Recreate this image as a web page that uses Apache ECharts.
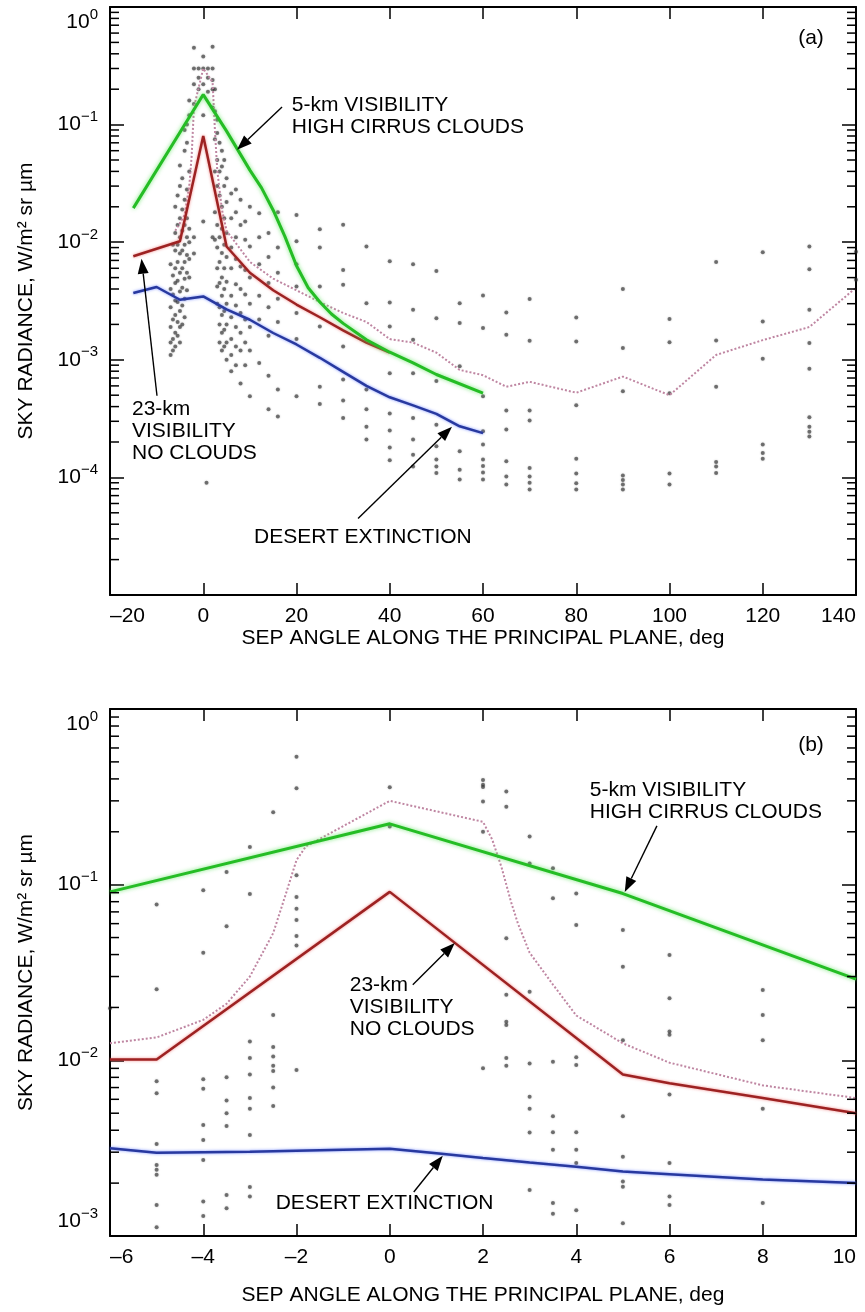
<!DOCTYPE html>
<html>
<head>
<meta charset="utf-8">
<title>Sky radiance along the principal plane</title>
<script src="https://cdn.jsdelivr.net/npm/echarts@6/dist/echarts.min.js"></script>
<style>
  html, body { margin: 0; padding: 0; background: #ffffff; }
  #chart { width: 865px; height: 1312px; }
</style>
</head>
<body>
<div id="chart"></div>
<script>
// ---------------- Panel (a): full sweep, -20 .. 140 deg ----------------
const angleTicksA = [-20, 0, 20, 40, 60, 80, 100, 120, 140];
const radianceRangeA = [1e-5, 1];

// 5-km visibility, high cirrus clouds
const cirrusAngleA = [-15, 0, 5, 10, 12.5, 15, 17.5, 20, 22.5, 25, 27.5, 30, 35, 40, 45, 50, 60];
const cirrusA = [0.0195, 0.18, 0.088, 0.041, 0.029, 0.0187, 0.0112, 0.0063, 0.0041, 0.0031, 0.00245, 0.00204, 0.00148, 0.00116, 0.00094, 0.00075, 0.00052];

// 23-km visibility, no clouds
const clearAngleA = [-15, -5, 0, 5, 10, 15, 20, 25, 30, 35, 40];
const clearA = [0.0076, 0.0102, 0.08, 0.0092, 0.0055, 0.0039, 0.00295, 0.0023, 0.00178, 0.0014, 0.00115];

// desert extinction
const desertAngleA = [-15, -10, -5, 0, 5, 10, 15, 20, 25, 30, 35, 40, 45, 50, 55, 60];
const desertA = [0.0037, 0.00416, 0.00324, 0.00346, 0.00268, 0.00219, 0.00169, 0.00135, 0.00104, 0.00079, 0.0006, 0.00048, 0.00041, 0.000347, 0.000272, 0.000238];

// measured mean (dotted)
const measuredAngleA = [-6, -4, -3, -2.5, -2, 0, 2, 2.5, 3, 4, 5, 10, 15, 20, 25, 30, 35, 40, 45, 50, 55, 60, 65, 70, 80, 90, 100, 110, 120, 130, 140];
const measuredA = [0.0125, 0.017, 0.03, 0.053, 0.14, 0.3, 0.23, 0.09, 0.041, 0.019, 0.0125, 0.0068, 0.0049, 0.0039, 0.0031, 0.0025, 0.0021, 0.0015, 0.0014, 0.00115, 0.00082, 0.00074, 0.00059, 0.00065, 0.000525, 0.00072, 0.0005, 0.0011, 0.00147, 0.0019, 0.0041];

// individual measurements: [angle, [radiances...]]
const dotsA = [
  [-7, [0.0065, 0.004, 0.0028, 0.0019, 0.0014, 0.0011]],
  [-6.5, [0.0095, 0.0052, 0.0036, 0.0022, 0.0015, 0.0012]],
  [-6, [0.02, 0.012, 0.0085, 0.006, 0.0045, 0.0032, 0.0024, 0.0017, 0.0013]],
  [-5.5, [0.025, 0.014, 0.0095, 0.0068, 0.0047, 0.0031, 0.0021, 0.0016]],
  [-5, [0.045, 0.03, 0.016, 0.011, 0.008, 0.0055, 0.0038, 0.0026, 0.0019, 0.0014]],
  [-4.5, [0.035, 0.019, 0.0125, 0.0085, 0.006, 0.0041, 0.0029, 0.002]],
  [-4, [0.09, 0.06, 0.023, 0.014, 0.0095, 0.0068, 0.0049, 0.0033, 0.0023]],
  [-3.5, [0.1, 0.07, 0.028, 0.016, 0.011, 0.0078, 0.0055, 0.0039]],
  [-3, [0.16, 0.12, 0.04, 0.013, 0.01, 0.0072, 0.005]],
  [-2, [0.45, 0.3, 0.22, 0.15, 0.011, 0.008]],
  [-1, [0.3, 0.25, 0.2]],
  [0, [0.38, 0.3, 0.22, 0.12, 0.015]],
  [0.7, [0.00009]],
  [1, [0.3, 0.25, 0.19]],
  [2, [0.46, 0.3, 0.24, 0.2, 0.14, 0.011]],
  [2.5, [0.2, 0.13, 0.075, 0.04, 0.018, 0.0105]],
  [3, [0.11, 0.085, 0.05, 0.03, 0.014, 0.009, 0.006, 0.0042, 0.003]],
  [3.5, [0.07, 0.04, 0.025, 0.011, 0.0068, 0.0045, 0.0028, 0.002, 0.0014]],
  [4, [0.06, 0.044, 0.02, 0.013, 0.0081, 0.005, 0.0035, 0.0024, 0.0017, 0.0012]],
  [4.5, [0.05, 0.03, 0.016, 0.0095, 0.006, 0.004, 0.0026, 0.0018, 0.0013]],
  [5, [0.035, 0.022, 0.012, 0.0075, 0.0046, 0.003, 0.002, 0.0014, 0.001]],
  [6, [0.026, 0.016, 0.009, 0.006, 0.0035, 0.0023, 0.0015, 0.0011, 0.0008]],
  [7, [0.028, 0.018, 0.011, 0.0072, 0.0044, 0.0029, 0.0019, 0.0013, 0.0009]],
  [8, [0.023, 0.014, 0.0062, 0.004, 0.0025, 0.0017, 0.0012, 0.00063]],
  [9, [0.015, 0.0105, 0.0058, 0.0036, 0.0022, 0.0014, 0.0009]],
  [10, [0.02, 0.0092, 0.005, 0.003, 0.0019, 0.0012, 0.00049]],
  [12, [0.0176, 0.011, 0.0065, 0.0035, 0.0022, 0.00094]],
  [14, [0.012, 0.0075, 0.0045, 0.0028, 0.0016, 0.00073, 0.00038]],
  [16, [0.018, 0.009, 0.0055, 0.0033, 0.0021, 0.00056, 0.00033]],
  [20, [0.017, 0.0102, 0.0065, 0.0042, 0.0025, 0.0015, 0.00049]],
  [25, [0.0129, 0.009, 0.0042, 0.00192, 0.00059, 0.00042]],
  [30, [0.0141, 0.0058, 0.00435, 0.0013, 0.00068, 0.00045, 0.00032]],
  [35, [0.0092, 0.00303, 0.00056, 0.00038, 0.00027, 0.00021]],
  [40, [0.0069, 0.00307, 0.00192, 0.00077, 0.00035, 0.00025, 0.00018, 0.00014]],
  [45, [0.0065, 0.00267, 0.00148, 0.00077, 0.00032, 0.00021, 0.000156, 0.000124]],
  [50, [0.0057, 0.00226, 0.00066, 0.00028, 0.000184, 0.000142, 0.000124, 0.000109]],
  [55, [0.00303, 0.00206, 0.00088, 0.000167, 0.000116, 0.000096]],
  [60, [0.00352, 0.00186, 0.00049, 0.000247, 0.00019, 0.000142, 0.000125, 0.00011, 0.000096]],
  [65, [0.00253, 0.00163, 0.00037, 0.000255, 0.000137, 0.000102, 0.000087]],
  [70, [0.00329, 0.00145, 0.00037, 0.000304, 0.00012, 0.000102, 0.00009, 0.000079]],
  [80, [0.00229, 0.00143, 0.00041, 0.000144, 0.000108, 0.000089, 0.000079]],
  [90, [0.004, 0.00126, 0.00054, 0.000104, 0.000095, 0.000087, 0.000079]],
  [100, [0.00222, 0.00141, 0.00052, 0.000108, 0.000087]],
  [110, [0.00678, 0.00146, 0.00059, 0.000135, 0.000124, 0.000109]],
  [120, [0.0082, 0.00212, 0.00102, 0.00019, 0.000161, 0.000144]],
  [130, [0.0092, 0.0059, 0.00267, 0.00139, 0.00084, 0.000324, 0.00027, 0.000245, 0.000223]],
  [140, [0.0083, 0.0048]]
];

// ---------------- Panel (b): close-up, -6 .. 10 deg ----------------
const angleTicksB = [-6, -4, -2, 0, 2, 4, 6, 8, 10];
const radianceRangeB = [1e-3, 1];

const cirrusAngleB = [-6, 0, 5, 10];
const cirrusB = [0.091, 0.222, 0.089, 0.029];

const clearAngleB = [-6, -5, 0, 5, 6, 8, 10];
const clearB = [0.0101, 0.0101, 0.091, 0.0083, 0.0074, 0.0061, 0.005];

const desertAngleB = [-6, -5, -4, -3, -2, -1, 0, 1, 2, 3, 4, 5, 6, 8, 10];
const desertB = [0.00316, 0.00298, 0.003, 0.00302, 0.00306, 0.0031, 0.00314, 0.00296, 0.00278, 0.00262, 0.00248, 0.00233, 0.00225, 0.0021, 0.002];

const measuredAngleB = [-6, -5, -4, -3.5, -3, -2.5, -2.25, -2, -1.8, 0, 2, 2.2, 2.4, 2.6, 2.75, 3, 3.5, 4, 5, 6, 8, 10];
const measuredB = [0.0125, 0.0135, 0.017, 0.021, 0.03, 0.053, 0.085, 0.138, 0.165, 0.3, 0.228, 0.18, 0.125, 0.08, 0.06, 0.041, 0.027, 0.018, 0.0125, 0.0097, 0.0072, 0.0061];

const dotsB = [
  [-6, [0.0198]],
  [-5, [0.077, 0.0254, 0.0076, 0.0065, 0.00334, 0.00254, 0.00238, 0.00223, 0.0015, 0.00112]],
  [-4, [0.093, 0.041, 0.0078, 0.0069, 0.00429, 0.00352, 0.00271, 0.00157, 0.0013]],
  [-3.5, [0.118, 0.058, 0.008, 0.0059, 0.005, 0.00423, 0.00171, 0.00144]],
  [-3, [0.164, 0.0885, 0.0128, 0.0103, 0.0083, 0.0061, 0.0053, 0.00376, 0.0019, 0.00168]],
  [-2.5, [0.258, 0.0181, 0.0119, 0.0105, 0.0093, 0.0087, 0.007, 0.0055]],
  [-2, [0.535, 0.354, 0.113, 0.085, 0.073, 0.063, 0.051, 0.045, 0.0088]],
  [0, [0.358, 0.214]],
  [2, [0.394, 0.37, 0.36, 0.297, 0.2, 0.009]],
  [2.5, [0.339, 0.278, 0.0495, 0.0236, 0.0166, 0.0159, 0.0103, 0.0093]],
  [3, [0.188, 0.132, 0.0246, 0.0096, 0.0062, 0.0053, 0.00388, 0.00183]],
  [3.5, [0.124, 0.0837, 0.0098, 0.0048, 0.0039, 0.0031, 0.00154, 0.00134]],
  [4, [0.089, 0.059, 0.0104, 0.0094, 0.0039, 0.0031, 0.0026, 0.0014]],
  [5, [0.0552, 0.0341, 0.013, 0.0048, 0.00283, 0.00204, 0.00191, 0.00118]],
  [6, [0.0398, 0.0226, 0.0146, 0.014, 0.0064, 0.0026, 0.00168, 0.0015]],
  [8, [0.0251, 0.0181, 0.013, 0.0053, 0.00154]]
];

// ---------------- text ----------------
const xTitle = 'SEP ANGLE ALONG THE PRINCIPAL PLANE, deg';
const yTitle = 'SKY RADIANCE, W/m\u00B2 sr \u00B5m';
const panelTags = ['(a)', '(b)'];

// callouts, anchored in data coordinates: text top-left, arrow tail and tip
const callouts = [
  { panel: 0, text: '5-km VISIBILITY\nHIGH CIRRUS CLOUDS', at: [19.0, 0.182], from: [16.9, 0.141], to: [7.24, 0.061] },
  { panel: 0, text: '23-km\nVISIBILITY\nNO CLOUDS', at: [-15.28, 4.67e-4], from: [-9.92, 4.95e-4], to: [-13.24, 0.00723] },
  { panel: 0, text: 'DESERT EXTINCTION', at: [10.88, 3.82e-5], from: [33.2, 4.47e-5], to: [53.35, 2.7e-4] },
  { panel: 1, text: '5-km VISIBILITY\nHIGH CIRRUS CLOUDS', at: [4.29, 0.40], from: [5.73, 0.216], to: [5.04, 0.0908] },
  { panel: 1, text: '23-km\nVISIBILITY\nNO CLOUDS', at: [-0.858, 0.031], from: [0.494, 0.0269], to: [1.395, 0.0466] },
  { panel: 1, text: 'DESERT EXTINCTION', at: [-2.446, 0.00178], from: [0.515, 0.00178], to: [1.137, 0.00286] }
];

// ---------------- helpers ----------------
const FONT = '"Liberation Sans", Arial, Helvetica, sans-serif';
const zip = (xs, ys) => xs.map((x, i) => [x, ys[i]]);
const flattenDots = cols => cols.flatMap(([x, vals]) => vals.map(v => [x, v]));
const dash = v => (v < 0 ? '\u2013' + (-v) : String(v));

// minor ticks 2..9 x 10^k inside each decade of a log range
function minorTickValues(range) {
  const out = [];
  const lo = Math.round(Math.log10(range[0]));
  const hi = Math.round(Math.log10(range[1]));
  for (let k = lo; k < hi; k++) {
    for (let m = 2; m <= 9; m++) out.push(m * Math.pow(10, k));
  }
  return out;
}

const axisLineStyle = { show: true, onZero: false, lineStyle: { color: '#000', width: 2 } };

function xAxes(grid, ticks, nameGap) {
  const base = {
    gridIndex: grid, type: 'value',
    min: ticks[0], max: ticks[ticks.length - 1], interval: ticks[1] - ticks[0],
    axisLine: axisLineStyle,
    axisTick: { show: true, inside: true, length: 12, lineStyle: { color: '#000', width: 1.5 } },
    splitLine: { show: false }
  };
  return [
    Object.assign({}, base, {
      position: 'bottom',
      axisLabel: {
        show: true, margin: 11, color: '#000', fontSize: 21, fontFamily: FONT,
        formatter: dash, alignMinLabel: 'left', alignMaxLabel: 'right',
        showMinLabel: true, showMaxLabel: true
      },
      name: xTitle, nameLocation: 'middle', nameGap: nameGap,
      nameTextStyle: { color: '#000', fontSize: 21, fontFamily: FONT }
    }),
    Object.assign({}, base, { position: 'top', axisLabel: { show: false } })
  ];
}

function yAxes(grid, range) {
  const base = {
    gridIndex: grid, type: 'log', logBase: 10,
    min: range[0], max: range[1],
    axisLine: axisLineStyle,
    axisTick: { show: true, inside: true, length: 14, lineStyle: { color: '#000', width: 1.5 } },
    splitLine: { show: false },
    minorTick: { show: false }
  };
  return [
    Object.assign({}, base, {
      position: 'left',
      axisLabel: {
        show: true, margin: 12, color: '#000', fontFamily: FONT,
        showMinLabel: true, showMaxLabel: true,
        verticalAlignMaxLabel: 'top', verticalAlignMinLabel: 'bottom',
        formatter: v => {
          const e = Math.round(Math.log10(v));
          if (e === -5) return '';
          return '{b|10}{s|' + (e < 0 ? '\u2212' + (-e) : String(e)) + '}';
        },
        rich: {
          b: { fontSize: 21, lineHeight: 30, fontFamily: FONT, color: '#000' },
          s: { fontSize: 15, lineHeight: 15, fontFamily: FONT, color: '#000', verticalAlign: 'top' }
        }
      },
      name: yTitle, nameLocation: 'middle', nameRotate: 90, nameGap: 73,
      nameTextStyle: { color: '#000', fontSize: 21, fontFamily: FONT }
    }),
    Object.assign({}, base, { position: 'right', axisLabel: { show: false } })
  ];
}

function minorTickSeries(axisIdx, ticks, range) {
  return {
    type: 'custom', xAxisIndex: axisIdx, yAxisIndex: axisIdx,
    silent: true, clip: false, z: 5,
    data: minorTickValues(range).map(v => [ticks[0], v]),
    renderItem: (params, api) => {
      const cs = params.coordSys;
      const y = api.coord([api.value(0), api.value(1)])[1];
      const st = { stroke: '#000', lineWidth: 1.5 };
      return {
        type: 'group',
        children: [
          { type: 'line', shape: { x1: cs.x, y1: y, x2: cs.x + 9, y2: y }, style: st },
          { type: 'line', shape: { x1: cs.x + cs.width, y1: y, x2: cs.x + cs.width - 9, y2: y }, style: st }
        ]
      };
    }
  };
}

function panelSeries(axisIdx, d) {
  const on = { xAxisIndex: axisIdx, yAxisIndex: axisIdx };
  return [
    Object.assign({
      type: 'scatter', name: 'measurements', data: flattenDots(d.dots),
      symbol: 'circle', symbolSize: 4,
      itemStyle: { color: 'rgba(50,50,50,0.8)', shadowBlur: 2, shadowColor: 'rgba(0,0,0,0.35)' }
    }, on),
    Object.assign({
      type: 'line', name: 'measured mean', data: zip(d.measuredAngle, d.measured),
      showSymbol: false,
      lineStyle: { color: '#bf86a2', width: 2, type: [2, 2] }
    }, on),
    Object.assign({
      type: 'line', name: 'desert extinction', data: zip(d.desertAngle, d.desert),
      showSymbol: false,
      lineStyle: { color: '#28399f', width: 2.5, shadowBlur: 3, shadowColor: 'rgba(70,100,255,0.7)' }
    }, on),
    Object.assign({
      type: 'line', name: '23-km visibility', data: zip(d.clearAngle, d.clear),
      showSymbol: false,
      lineStyle: { color: '#9d2222', width: 2.5, shadowBlur: 3, shadowColor: 'rgba(235,90,90,0.7)' }
    }, on),
    Object.assign({
      type: 'line', name: '5-km visibility', data: zip(d.cirrusAngle, d.cirrus),
      showSymbol: false,
      lineStyle: { color: '#25bd25', width: 3, shadowBlur: 4, shadowColor: 'rgba(90,225,90,0.8)' }
    }, on)
  ];
}

const panelA = {
  dots: dotsA, measuredAngle: measuredAngleA, measured: measuredA,
  desertAngle: desertAngleA, desert: desertA, clearAngle: clearAngleA, clear: clearA,
  cirrusAngle: cirrusAngleA, cirrus: cirrusA
};
const panelB = {
  dots: dotsB, measuredAngle: measuredAngleB, measured: measuredB,
  desertAngle: desertAngleB, desert: desertB, clearAngle: clearAngleB, clear: clearB,
  cirrusAngle: cirrusAngleB, cirrus: cirrusB
};

const option = {
  animation: false,
  backgroundColor: '#ffffff',
  grid: [
    { left: 110, top: 7, width: 746, height: 588 },
    { left: 110, top: 709, width: 746, height: 527 }
  ],
  xAxis: [].concat(xAxes(0, angleTicksA, 32), xAxes(1, angleTicksB, 49)),
  yAxis: [].concat(yAxes(0, radianceRangeA), yAxes(1, radianceRangeB)),
  series: [].concat(
    panelSeries(0, panelA),
    panelSeries(2, panelB),
    [minorTickSeries(0, angleTicksA, radianceRangeA), minorTickSeries(2, angleTicksB, radianceRangeB)]
  )
};

const chart = echarts.init(document.getElementById('chart'), null, { renderer: 'canvas' });
chart.setOption(option);

// callout text and arrows, placed through the axes' own conversion
const toPx = (panel, pt) => chart.convertToPixel({ xAxisIndex: panel * 2, yAxisIndex: panel * 2 }, pt);
const graphics = [];
callouts.forEach(c => {
  const p = toPx(c.panel, c.at);
  graphics.push({
    type: 'text', silent: true, z: 100,
    style: {
      text: c.text, x: p[0], y: p[1], fill: '#000',
      font: '21px ' + FONT, lineHeight: 22,
      align: 'left', verticalAlign: 'top', textAlign: 'left', textVerticalAlign: 'top'
    }
  });
  const a = toPx(c.panel, c.from);
  const b = toPx(c.panel, c.to);
  const dx = b[0] - a[0], dy = b[1] - a[1];
  const len = Math.sqrt(dx * dx + dy * dy);
  const ux = dx / len, uy = dy / len;
  const headLen = 15, headHalf = 5.5;
  const bx = b[0] - ux * headLen, by = b[1] - uy * headLen;
  graphics.push({
    type: 'line', silent: true, z: 100,
    shape: { x1: a[0], y1: a[1], x2: bx, y2: by },
    style: { stroke: '#000', lineWidth: 1.4 }
  });
  graphics.push({
    type: 'polygon', silent: true, z: 100,
    shape: { points: [[b[0], b[1]], [bx - uy * headHalf, by + ux * headHalf], [bx + uy * headHalf, by - ux * headHalf]] },
    style: { fill: '#000' }
  });
});
// panel tags in the upper right corner of each plot
[[0, angleTicksA, radianceRangeA, 31], [1, angleTicksB, radianceRangeB, 36]].forEach(([panel, ticks, range, dy]) => {
  const corner = toPx(panel, [ticks[ticks.length - 1], range[1]]);
  graphics.push({
    type: 'text', silent: true, z: 100,
    style: {
      text: panelTags[panel], x: corner[0] - 45, y: corner[1] + dy, fill: '#000',
      font: '21px ' + FONT, align: 'center', verticalAlign: 'middle',
      textAlign: 'center', textVerticalAlign: 'middle'
    }
  });
});
chart.setOption({ graphic: graphics });
</script>
</body>
</html>
